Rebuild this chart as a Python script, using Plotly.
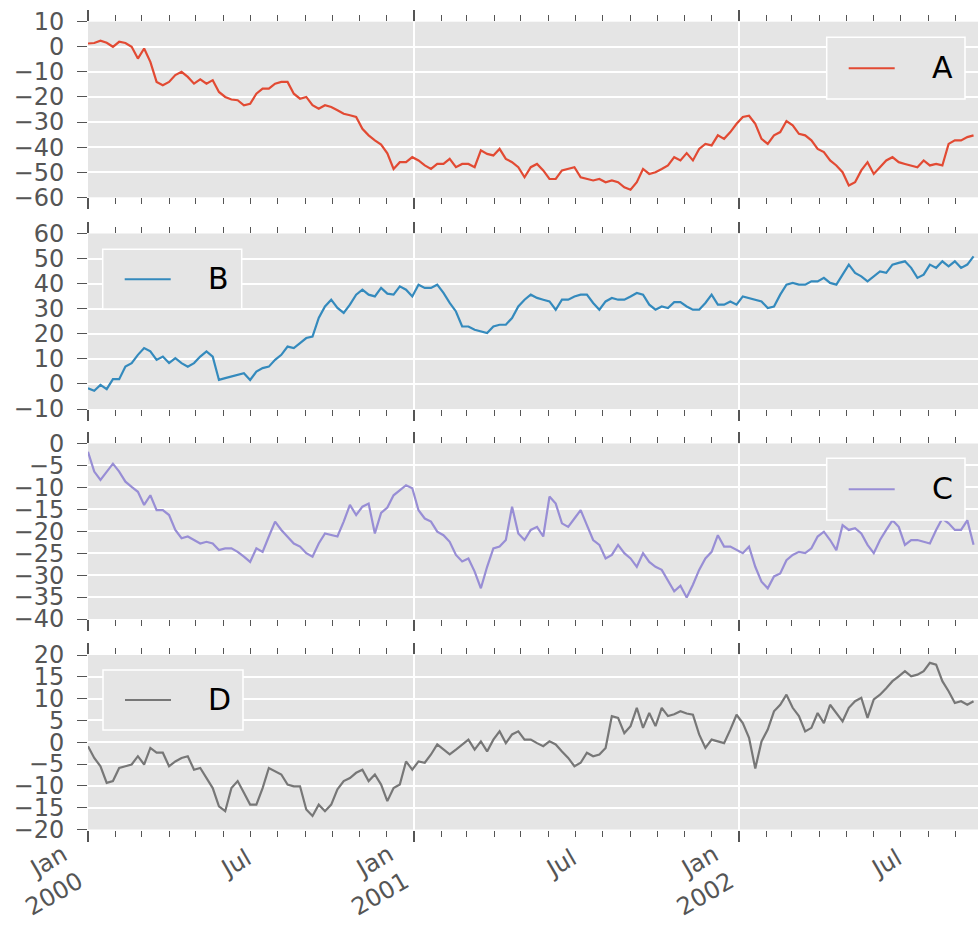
import pandas as pd
import plotly.graph_objects as go

dates = pd.date_range("2000-01-01", periods=143, freq="7D")

a_vals = [1.3, 1.5, 2.4, 1.6, 0, 2, 1.5, 0, -4.7, -0.7, -6, -14, -15.3, -14, -11.3, -10, -12, -14.7, -13, -14.7,
          -13.3, -18, -20, -21, -21.3, -23.3, -22.7, -18.7, -16.7, -16.7, -14.7, -14, -14, -18.7, -20.7, -20, -23.3, -24.7, -23.3, -24,
          -25.3, -26.7, -27.3, -28, -32.7, -35.3, -37.3, -39, -42.5, -48.7, -46, -46, -44, -45.3, -47.3, -48.7, -46.7, -46.7, -44.7, -48,
          -46.7, -46.7, -48, -41.3, -42.7, -43.3, -40.7, -44.7, -46, -48, -52, -48, -46.7, -49.3, -52.7, -52.7, -49.3, -48.7, -48, -52,
          -52.7, -53.3, -52.7, -54, -53.3, -54, -56, -57, -54, -48.7, -50.7, -50, -48.7, -47.3, -44, -45.3, -42.4, -45.3, -40.7, -38.7,
          -39.3, -35.3, -36.7, -34, -30.7, -28, -27.5, -30.7, -36.7, -38.7, -35.3, -34, -29.6, -31.3, -34.7, -35.3, -37.3, -40.7, -42, -45.3,
          -47.3, -50, -55.3, -54, -49.3, -46, -50.7, -48, -45.3, -44, -46, -46.7, -47.3, -48, -45.3, -47.3, -46.7, -47.3, -38.7, -37.3,
          -37.3, -36, -35.3]

b_vals = [-1.7, -2.7, -0.4, -2.1, 1.9, 1.9, 6.9, 8.3, 11.6, 14.3, 13, 9.6, 10.9, 8.3, 10.3, 8.3, 6.9, 8.3, 10.9, 13,
          10.9, 1.6, 2.3, 2.9, 3.6, 4.3, 1.6, 4.9, 6.3, 6.9, 9.6, 11.6, 14.9, 14.3, 16.3, 18.3, 18.9, 26.3, 30.9, 33.6,
          30.3, 28.3, 31.6, 35.6, 37.6, 35.6, 34.9, 38.3, 36, 35.6, 38.9, 37.6, 34.9, 39.6, 38.3, 38.3, 39.6, 36.3, 32.3, 28.9,
          22.9, 22.9, 21.6, 20.9, 20.3, 22.9, 23.6, 23.6, 26.3, 30.9, 33.6, 35.6, 34.3, 33.6, 32.9, 29.6, 33.6, 33.6, 34.9, 35.6,
          35.6, 32.3, 29.6, 32.9, 34.3, 33.6, 33.6, 34.9, 36.3, 35.6, 31.6, 29.6, 30.9, 30.3, 32.6, 32.6, 30.9, 29.6, 29.6, 32.3,
          35.6, 31.6, 31.6, 32.9, 31.6, 34.9, 34.3, 33.6, 32.9, 30.3, 30.9, 35.6, 39.6, 40.3, 39.6, 39.6, 40.9, 40.9, 42.3, 40.3,
          39.6, 43.6, 47.6, 44.3, 42.9, 40.9, 42.9, 44.9, 44.3, 47.6, 48.3, 48.9, 46.3, 42.3, 43.6, 47.6, 46.3, 48.9, 46.9, 48.9,
          46.3, 47.6, 50.9]

c_vals = [-1.9, -6.4, -8.3, -6.4, -4.6, -6.4, -8.7, -9.9, -11, -14, -11.8, -15.2, -15.2, -16.3, -19.7, -21.6, -21.2, -22, -22.8, -22.4,
          -22.8, -24.3, -23.9, -23.9, -24.7, -25.8, -27, -23.9, -24.7, -21.2, -17.8, -19.7, -21.2, -22.8, -23.5, -25, -25.8, -22.8, -20.5, -20.9,
          -21.2, -17.8, -14, -16.3, -14.4, -13.7, -20.5, -15.8, -14.6, -11.8, -10.6, -9.5, -10.2, -15.2, -17.1, -17.8, -20.1, -20.9, -22.4, -25.4,
          -26.9, -26.2, -29.2, -33, -28.1, -23.9, -23.5, -22, -14.4, -20.5, -22, -19.7, -19, -21.2, -12.1, -13.7, -18.2, -19, -17.1, -15.2,
          -18.6, -22, -23.1, -26.2, -25.4, -23.1, -25, -26.2, -28.1, -25, -27, -28.1, -28.8, -31.1, -33.7, -32.4, -35.1, -32.2, -28.8, -26.2,
          -24.7, -20.9, -23.5, -23.5, -24.3, -25, -23.5, -28.1, -31.5, -33, -30.3, -29.6, -26.6, -25.4, -24.7, -25, -23.9, -21.2, -20.1, -22,
          -24.3, -18.6, -19.7, -19.3, -20.5, -23.1, -25, -22, -19.7, -17.5, -19, -23.1, -22, -22, -22.4, -22.8, -19.7, -17.1, -18.2, -19.7,
          -19.7, -17.5, -23.1]

d_vals = [-0.9, -3.6, -5.5, -9.3, -8.9, -5.9, -5.5, -5.1, -3.2, -5.1, -1.3, -2.4, -2.4, -5.5, -4.4, -3.6, -3.2, -6.3, -5.9, -8.2,
          -10.5, -14.7, -15.8, -10.5, -8.9, -11.6, -14.3, -14.3, -10.5, -5.9, -6.6, -7.4, -9.7, -10.1, -10.1, -15.4, -16.9, -14.3, -15.8, -14.3,
          -10.8, -8.9, -8.2, -7, -6.3, -8.9, -7.4, -9.7, -13.5, -10.5, -9.7, -4.4, -6.3, -4.4, -4.7, -2.8, -0.5, -1.7, -2.8, -1.7,
          -0.5, 0.6, -1.7, 0.2, -2.1, 0.6, 2.5, -0.2, 1.8, 2.5, 0.6, 0.6, -0.2, -0.9, 0.2, -0.5, -2.1, -3.6, -5.5, -4.7,
          -2.4, -3.2, -2.8, -1.3, 6, 5.6, 2.1, 3.7, 7.9, 3.3, 6.7, 3.7, 7.9, 6, 6.4, 7.1, 6.6, 6.3, 1.8, -1.3,
          0.6, 0.2, -0.2, 2.9, 6.3, 4.4, 1, -6, 0.2, 2.9, 7.1, 8.6, 10.9, 7.9, 6, 2.5, 3.3, 6.7, 4.4, 8.6,
          6.7, 4.8, 7.9, 9.4, 10.2, 5.6, 9.8, 10.9, 12.4, 14, 15.1, 16.3, 15.1, 15.5, 16.3, 18.2, 17.8, 14, 11.7, 9,
          9.4, 8.6, 9.4]

series_names = ["A", "B", "C", "D"]
series_vals = [a_vals, b_vals, c_vals, d_vals]
series_colors = ["#E24A33", "#348ABD", "#988ED5", "#777777"]

y_ranges = [[-60, 10], [-10, 60], [-40, 0], [-20, 20]]
y_dticks = [10, 10, 5, 5]

major_vals = ["2000-01-01", "2001-01-01", "2002-01-01"]
major_text = ["Jan<br>2000", "Jan<br>2001", "Jan<br>2002"]
jul_vals = ["2000-07-01", "2001-07-01", "2002-07-01"]
jul_text = ["Jul", "Jul", "Jul"]
x_range = ["2000-01-01", "2002-09-26"]

W, H = 978, 930
L = 88
panel_px = [(21.7, 197.3), (233.5, 409.0), (443.5, 619.0), (655.0, 829.5)]
# legend boxes (left, top, right, bottom) in pixels
legend_box = [(826.7, 37.3, 965.0, 99.0), (102.7, 249.3, 241.7, 309.0),
              (826.7, 458.3, 965.0, 520.0), (103.0, 670.0, 243.0, 730.0)]

FONT = "DejaVu Sans"
TICKC = "#555555"


def px_x(x):
    return (x - L) / (W - L)


def px_y(y):
    return 1 - y / H


fig = go.Figure()
layout = dict(
    width=W, height=H,
    margin=dict(l=L, r=0, t=0, b=0),
    paper_bgcolor="white",
    plot_bgcolor="#E5E5E5",
    font=dict(family=FONT, size=24, color=TICKC),
    showlegend=False,
)
shapes = []
annotations = []

for i in range(4):
    sfx = "" if i == 0 else str(i + 1)
    fig.add_trace(go.Scatter(
        x=dates, y=series_vals[i], mode="lines", name=series_names[i],
        line=dict(color=series_colors[i], width=2.2),
        xaxis="x" + sfx, yaxis="y" + sfx,
    ))
    top, bot = panel_px[i]
    xa = dict(
        type="date", range=x_range, anchor="y" + sfx,
        domain=[0, 1],
        tickmode="array", tickvals=major_vals, ticktext=major_text,
        showticklabels=(i == 3), tickangle=-30,
        ticklabelshift=-25, ticklabelstandoff=-10,
        ticks="outside", ticklen=11, tickwidth=1.5, tickcolor=TICKC,
        mirror="ticks", showline=False,
        showgrid=True, gridcolor="white", gridwidth=1.5, zeroline=False,
        minor=dict(ticks="outside", ticklen=6, tickwidth=1, tickcolor=TICKC,
                   dtick="M1", tick0="2000-01-01", showgrid=False),
        tickfont=dict(size=24, color=TICKC, family=FONT),
        automargin=False,
    )
    if i > 0:
        xa["matches"] = "x"
    layout["xaxis" + sfx] = xa
    layout["yaxis" + sfx] = dict(
        range=y_ranges[i], dtick=y_dticks[i], tick0=0, anchor="x" + sfx,
        domain=[px_y(bot), px_y(top)],
        ticks="outside", ticklen=10, tickwidth=1, tickcolor=TICKC,
        showgrid=True, gridcolor="white", gridwidth=1.5, zeroline=False,
        showline=False, ticklabelstandoff=8,
        tickfont=dict(size=24, color=TICKC, family=FONT),
        automargin=False,
    )
    # legend box drawn like the matplotlib legend
    x0, y0, x1, y1 = legend_box[i]
    ym = (y0 + y1) / 2
    shapes.append(dict(type="rect", xref="paper", yref="paper", layer="above",
                       x0=px_x(x0), x1=px_x(x1), y0=px_y(y1), y1=px_y(y0),
                       fillcolor="#E5E5E5", line=dict(color="white", width=1.5)))
    shapes.append(dict(type="line", xref="paper", yref="paper", layer="above",
                       x0=px_x(x0 + 22), x1=px_x(x0 + 68), y0=px_y(ym), y1=px_y(ym),
                       line=dict(color=series_colors[i], width=2)))
    annotations.append(dict(text=series_names[i], xref="paper", yref="paper",
                            x=px_x(x0 + 103), y=px_y(ym - 1), xanchor="left", yanchor="middle",
                            showarrow=False, font=dict(size=30, color="black", family=FONT)))

# overlay axis carrying the "Jul" minor labels on the bottom panel
fig.add_trace(go.Scatter(x=[], y=[], xaxis="x5", yaxis="y4", showlegend=False, hoverinfo="skip"))
layout["xaxis5"] = dict(
    type="date", range=x_range, overlaying="x4", anchor="y4", side="bottom",
    tickmode="array", tickvals=jul_vals, ticktext=jul_text, tickangle=-30,
    ticklabelshift=-3, ticklabelstandoff=-6,
    ticks="outside", ticklen=11, tickcolor="rgba(0,0,0,0)",
    showgrid=False, zeroline=False, showline=False,
    tickfont=dict(size=24, color=TICKC, family=FONT), automargin=False,
)
layout["shapes"] = shapes
layout["annotations"] = annotations

fig.update_layout(**layout)
fig.write_html("out.html", config={"displayModeBar": False},
               post_script="document.body.style.margin='0px';document.body.style.overflow='hidden';")
